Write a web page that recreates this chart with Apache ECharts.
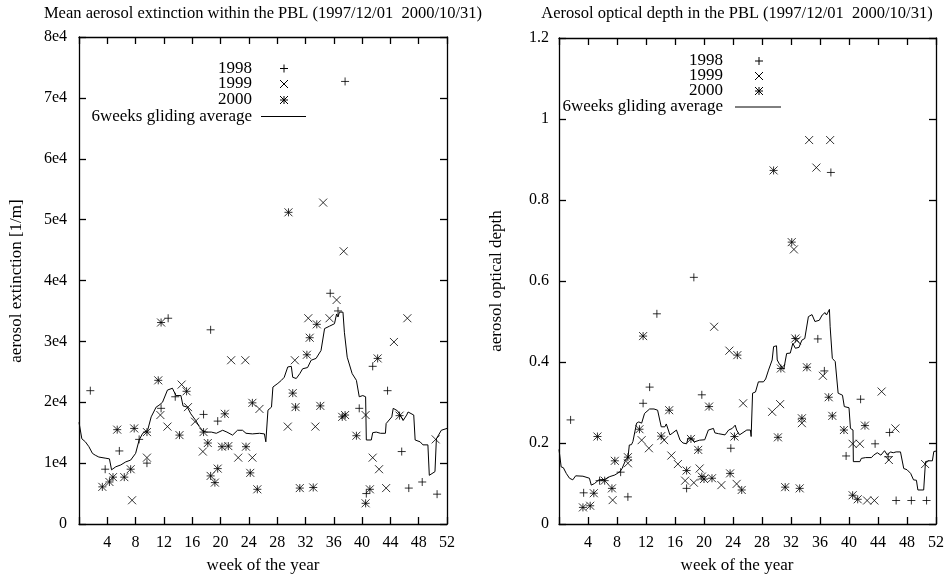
<!DOCTYPE html>
<html><head><meta charset="utf-8">
<script src="https://cdn.jsdelivr.net/npm/echarts@6/dist/echarts.min.js"></script>
<style>html,body{margin:0;padding:0;background:#fff}#c{width:950px;height:578px}</style>
</head><body><div id="c"></div>
<script>
// ---------- Data ----------
var weekTicks = [4, 8, 12, 16, 20, 24, 28, 32, 36, 40, 44, 48, 52];
var legendLabels = ['1998', '1999', '2000', '6weeks gliding average'];
var titleLeft = 'Mean aerosol extinction within the PBL (1997/12/01  2000/10/31)';
var titleRight = 'Aerosol optical depth in the PBL (1997/12/01  2000/10/31)';
var yNameLeft = 'aerosol extinction [1/m]';
var yNameRight = 'aerosol optical depth';
var xName = 'week of the year';

// Left: mean aerosol extinction [1/m]  [week, value]
var ext1998 = [[1.6,21900],[3.7,9000],[5.7,12000],[8.5,13900],[9.6,10000],[11.6,19000],[12.6,33800],[13.6,20900],[17.6,18000],[18.6,31900],[19.6,16900],[35.5,37900],[36.6,35000],[37.6,72700],[39.6,19000],[40.6,5000],[41.5,25900],[43.6,21900],[45.6,11900],[46.6,5900],[48.5,6900],[50.6,4900]];
var ext1999 = [[7.5,3900],[9.6,10900],[11.5,17900],[12.5,16000],[14.5,22900],[15.4,19200],[16.4,16800],[17.5,11900],[21.5,26900],[22.5,10900],[23.5,26900],[24.5,10900],[25.5,18900],[29.5,16000],[30.5,26900],[32.4,33800],[33.4,16000],[34.5,52800],[35.4,33800],[36.4,36800],[37.4,44800],[40.5,17900],[41.5,10900],[42.4,9000],[43.4,5900],[44.5,29900],[46.4,33800],[50.4,13900]];
var ext2000 = [[3.3,6100],[4.3,6900],[4.8,7700],[5.4,15500],[6.4,7700],[7.3,9000],[7.8,15700],[9.6,15100],[11.2,23600],[11.6,33100],[14.2,14600],[15.2,21800],[17.6,15100],[18.2,13300],[18.6,7900],[19.2,6800],[19.6,9100],[20.2,12700],[20.6,18100],[21.1,12800],[23.6,12700],[24.2,8400],[24.5,19900],[25.2,5700],[29.6,51200],[30.2,21500],[30.6,19200],[31.2,5900],[32.2,27800],[32.6,30600],[33.1,6000],[33.6,32800],[34.1,19400],[37.2,17600],[37.6,17900],[39.2,14500],[40.5,3400],[41.1,5700],[42.2,27200],[45.3,17800]];
var extAvg = [[0,16700],[0.4,14000],[0.9,13500],[1.4,12700],[1.9,11600],[2.3,11300],[2.8,11000],[3.8,10800],[4.3,10700],[4.6,8900],[5.2,9400],[5.9,9700],[6.6,10200],[7.3,10500],[8.0,11600],[8.5,13800],[9.0,14900],[9.7,15400],[10.2,17600],[10.9,19200],[11.3,19500],[11.8,20000],[12.5,22000],[13.2,22300],[13.7,21100],[14.4,21100],[14.7,19400],[15.3,19200],[15.8,18100],[16.5,17000],[17.0,16000],[17.5,15300],[18.0,15100],[18.7,15100],[19.4,14900],[20.3,15400],[20.9,15100],[21.7,14600],[22.4,15400],[23.1,15400],[23.6,14900],[24.5,14800],[25.5,14900],[26.2,14800],[26.4,13500],[26.7,18700],[27.2,19200],[27.4,22500],[28.1,23100],[28.6,23600],[29.0,24100],[29.5,25800],[30.0,25900],[30.2,24100],[30.7,23900],[31.2,24700],[31.6,25500],[32.3,25700],[32.8,26900],[33.5,27200],[34.2,28500],[34.7,32100],[35.4,32500],[36.1,32900],[36.4,34500],[36.6,34000],[36.8,34800],[37.3,34800],[37.5,31500],[37.9,27400],[38.6,24700],[39.2,23600],[39.6,20900],[40.1,21100],[40.5,20900],[40.6,13800],[41.3,13800],[41.5,15000],[42.0,15100],[42.6,14900],[43.3,14900],[43.4,16500],[44.2,17600],[44.4,19000],[45.0,18600],[45.4,17900],[45.8,17000],[46.3,17900],[46.5,18400],[47.3,17900],[47.5,13800],[48.2,13500],[48.6,13000],[49.3,13000],[49.5,8000],[50.3,8600],[50.5,14000],[51.2,15400],[52,15700]];

// Right: aerosol optical depth  [week, value]
var aod1998 = [[1.6,0.257],[3.4,0.077],[5.6,0.107],[8.5,0.128],[9.5,0.067],[11.6,0.298],[12.5,0.338],[13.5,0.519],[17.6,0.088],[18.6,0.609],[19.7,0.319],[23.7,0.187],[35.7,0.457],[36.6,0.378],[37.5,0.868],[39.6,0.168],[41.6,0.308],[43.6,0.198],[45.4,0.166],[45.6,0.226],[46.5,0.058],[48.6,0.058],[50.7,0.058]];
var aod1999 = [[7.4,0.059],[9.5,0.15],[11.4,0.207],[12.4,0.187],[14.5,0.207],[15.5,0.169],[16.4,0.148],[17.4,0.107],[18.6,0.102],[19.4,0.137],[21.4,0.487],[22.4,0.096],[23.5,0.428],[24.5,0.099],[25.4,0.298],[29.4,0.277],[30.5,0.296],[32.4,0.678],[32.8,0.453],[33.5,0.249],[34.5,0.948],[35.5,0.88],[36.4,0.366],[37.4,0.948],[40.5,0.198],[41.5,0.198],[42.5,0.058],[43.5,0.058],[44.5,0.327],[45.5,0.158],[46.4,0.236],[50.5,0.148]];
var aod2000 = [[3.3,0.041],[4.3,0.045],[4.8,0.076],[5.3,0.216],[6.3,0.107],[7.3,0.088],[7.7,0.156],[9.5,0.165],[11.1,0.234],[11.6,0.464],[14.1,0.217],[15.2,0.281],[17.6,0.132],[18.2,0.21],[19.2,0.183],[19.7,0.117],[20.0,0.111],[20.7,0.29],[21.1,0.113],[23.6,0.125],[24.2,0.216],[24.6,0.417],[25.2,0.084],[29.6,0.873],[30.2,0.214],[30.6,0.384],[31.2,0.091],[32.1,0.696],[32.6,0.458],[33.2,0.088],[33.5,0.261],[34.2,0.387],[37.2,0.313],[37.7,0.267],[39.3,0.232],[40.5,0.071],[41.2,0.061],[42.2,0.243]];
var aodAvg = [[0,0.184],[0.3,0.141],[0.6,0.139],[1.0,0.125],[1.45,0.113],[1.9,0.109],[2.3,0.119],[3.3,0.118],[4.2,0.113],[4.45,0.096],[4.9,0.1],[5.5,0.109],[6.3,0.11],[7.0,0.117],[7.7,0.121],[8.4,0.129],[8.7,0.137],[9.1,0.154],[9.5,0.162],[9.7,0.195],[10.0,0.196],[10.2,0.204],[10.7,0.249],[11.0,0.252],[11.4,0.249],[11.6,0.253],[11.8,0.273],[12.5,0.284],[13.1,0.284],[13.6,0.281],[14.1,0.24],[14.6,0.24],[14.8,0.247],[15.3,0.22],[15.7,0.225],[16.2,0.232],[16.7,0.207],[17.1,0.2],[17.6,0.198],[17.8,0.212],[18.3,0.212],[18.7,0.203],[19.4,0.207],[20.1,0.208],[20.6,0.232],[21.3,0.236],[21.5,0.225],[22.0,0.223],[22.2,0.22],[22.9,0.22],[23.4,0.232],[23.9,0.236],[24.3,0.244],[24.5,0.232],[24.9,0.22],[25.0,0.216],[25.9,0.232],[26.4,0.232],[26.5,0.216],[26.7,0.323],[27.1,0.326],[27.5,0.351],[28.2,0.351],[28.5,0.358],[28.9,0.38],[29.4,0.405],[29.6,0.438],[30.0,0.44],[30.1,0.405],[30.4,0.395],[31.0,0.382],[31.4,0.421],[31.9,0.422],[32.25,0.446],[32.5,0.45],[32.6,0.434],[33.1,0.436],[33.5,0.454],[33.9,0.458],[34.4,0.512],[34.9,0.517],[35.3,0.5],[35.9,0.503],[36.3,0.516],[36.7,0.522],[36.9,0.516],[37.3,0.53],[37.4,0.487],[37.7,0.409],[38.1,0.401],[38.5,0.323],[39.1,0.318],[39.35,0.29],[40.0,0.287],[40.2,0.236],[40.55,0.232],[40.6,0.154],[41.5,0.154],[41.7,0.162],[42.3,0.164],[43.1,0.164],[43.4,0.17],[43.9,0.176],[44.4,0.17],[44.9,0.181],[45.3,0.17],[45.7,0.178],[46.1,0.176],[46.5,0.178],[47.1,0.178],[47.55,0.137],[48.0,0.134],[48.5,0.125],[48.9,0.109],[49.3,0.108],[49.5,0.084],[50.3,0.084],[50.55,0.154],[51.0,0.156],[51.5,0.156],[51.7,0.179],[52,0.18]];

// ---------- Style ----------
var FONT = '"Liberation Serif", "DejaVu Serif", serif';
var FS = 17;        // legend, axis names
var FS_TITLE = 16.5;
var FS_TICK = 16;   // tick labels
var INK = '#000';
var PLUS = 'path://M0,5L10,5M5,0L5,10';
var CROSS = 'path://M0,0L10,10M10,0L0,10';
var STAR = 'path://M0,0L10,10M10,0L0,10M0,5L10,5M5,0L5,10';

var grids = [
  {left: 79, top: 37, width: 368, height: 487},
  {left: 559, top: 38, width: 377, height: 486}
];

function xAx(gi, pos) {
  return {
    type: 'value', gridIndex: gi, position: pos, min: 0, max: 52, interval: 4,
    axisLine: {show: true, onZero: false, lineStyle: {color: INK, width: 1.3}},
    axisTick: {show: true, inside: true, length: 7, lineStyle: {color: INK, width: 1.3}},
    axisLabel: {show: pos === 'bottom', margin: 11, color: INK, fontFamily: FONT, fontSize: FS_TICK,
      formatter: function (v) { return weekTicks.indexOf(v) >= 0 ? String(v) : ''; }},
    splitLine: {show: false}
  };
}
function yAx(gi, pos, max, interval, fmt, margin) {
  return {
    type: 'value', gridIndex: gi, position: pos, min: 0, max: max, interval: interval,
    axisLine: {show: true, onZero: false, lineStyle: {color: INK, width: 1.3}},
    axisTick: {show: true, inside: true, length: 7, lineStyle: {color: INK, width: 1.3}},
    axisLabel: {show: pos === 'left', margin: margin, color: INK, fontFamily: FONT, fontSize: FS_TICK, formatter: fmt},
    splitLine: {show: false}
  };
}
function fmtExt(v) { return v === 0 ? '0' : (Math.round(v / 1e4)) + 'e4'; }
function fmtAod(v) { return String(+v.toFixed(1)); }

function scat(data, sym, xi, yi) {
  return {type: 'scatter', data: data, xAxisIndex: xi, yAxisIndex: yi, symbol: sym, symbolSize: 8,
    itemStyle: {color: INK, borderColor: INK, borderWidth: 1}, silent: true, animation: false};
}
function avgLine(data, xi, yi) {
  return {type: 'line', data: data, xAxisIndex: xi, yAxisIndex: yi, showSymbol: false, symbol: 'none',
    lineStyle: {color: INK, width: 1}, silent: true, animation: false};
}

// legend & text decorations (graphic)
var graphics = [];
function txt(s, x, y, align, rot, size) {
  graphics.push({type: 'text', x: x, y: y, rotation: rot || 0, silent: true,
    style: {text: s, fill: INK, font: (size || FS) + 'px ' + FONT, textAlign: align, textVerticalAlign: 'middle'}});
}
function seg(x1, y1, x2, y2) {
  graphics.push({type: 'line', silent: true, shape: {x1: x1, y1: y1, x2: x2, y2: y2}, style: {stroke: INK, lineWidth: 1}});
}
function mark(kind, cx, cy) {
  var h = 4;
  if (kind === 0 || kind === 2) { seg(cx - h, cy, cx + h, cy); seg(cx, cy - h, cx, cy + h); }
  if (kind === 1 || kind === 2) { seg(cx - h, cy - h, cx + h, cy + h); seg(cx + h, cy - h, cx - h, cy + h); }
}
function legend(textRight, symX, lineX1, lineX2, rows) {
  for (var i = 0; i < legendLabels.length; i++) {
    txt(legendLabels[i], textRight, rows[i], 'right');
    if (i < 3) mark(i, symX, rows[i]);
    else seg(lineX1, rows[i], lineX2, rows[i]);
  }
}
legend(252, 284, 261, 306, [68.5, 84, 100, 116.5]);
legend(723, 759, 735, 781, [61, 76, 91, 107]);
txt(titleLeft, 263, 14, 'center', 0, FS_TITLE);
txt(titleRight, 737, 14, 'center', 0, FS_TITLE);
txt(xName, 263, 566, 'center');
txt(xName, 737, 566, 'center');
txt(yNameLeft, 17, 281, 'center', Math.PI / 2);
txt(yNameRight, 497, 281, 'center', Math.PI / 2);

var chart = echarts.init(document.getElementById('c'), null, {renderer: 'canvas'});
chart.setOption({
  backgroundColor: '#fff',
  animation: false,
  grid: grids,
  xAxis: [xAx(0, 'bottom'), xAx(0, 'top'), xAx(1, 'bottom'), xAx(1, 'top')],
  yAxis: [yAx(0, 'left', 80000, 10000, fmtExt, 12), yAx(0, 'right', 80000, 10000, fmtExt, 12),
          yAx(1, 'left', 1.2, 0.2, fmtAod, 10), yAx(1, 'right', 1.2, 0.2, fmtAod, 10)],
  series: [
    scat(ext1998, PLUS, 0, 0), scat(ext1999, CROSS, 0, 0), scat(ext2000, STAR, 0, 0), avgLine(extAvg, 0, 0),
    scat(aod1998, PLUS, 2, 2), scat(aod1999, CROSS, 2, 2), scat(aod2000, STAR, 2, 2), avgLine(aodAvg, 2, 2)
  ],
  graphic: graphics
});
</script></body></html>
